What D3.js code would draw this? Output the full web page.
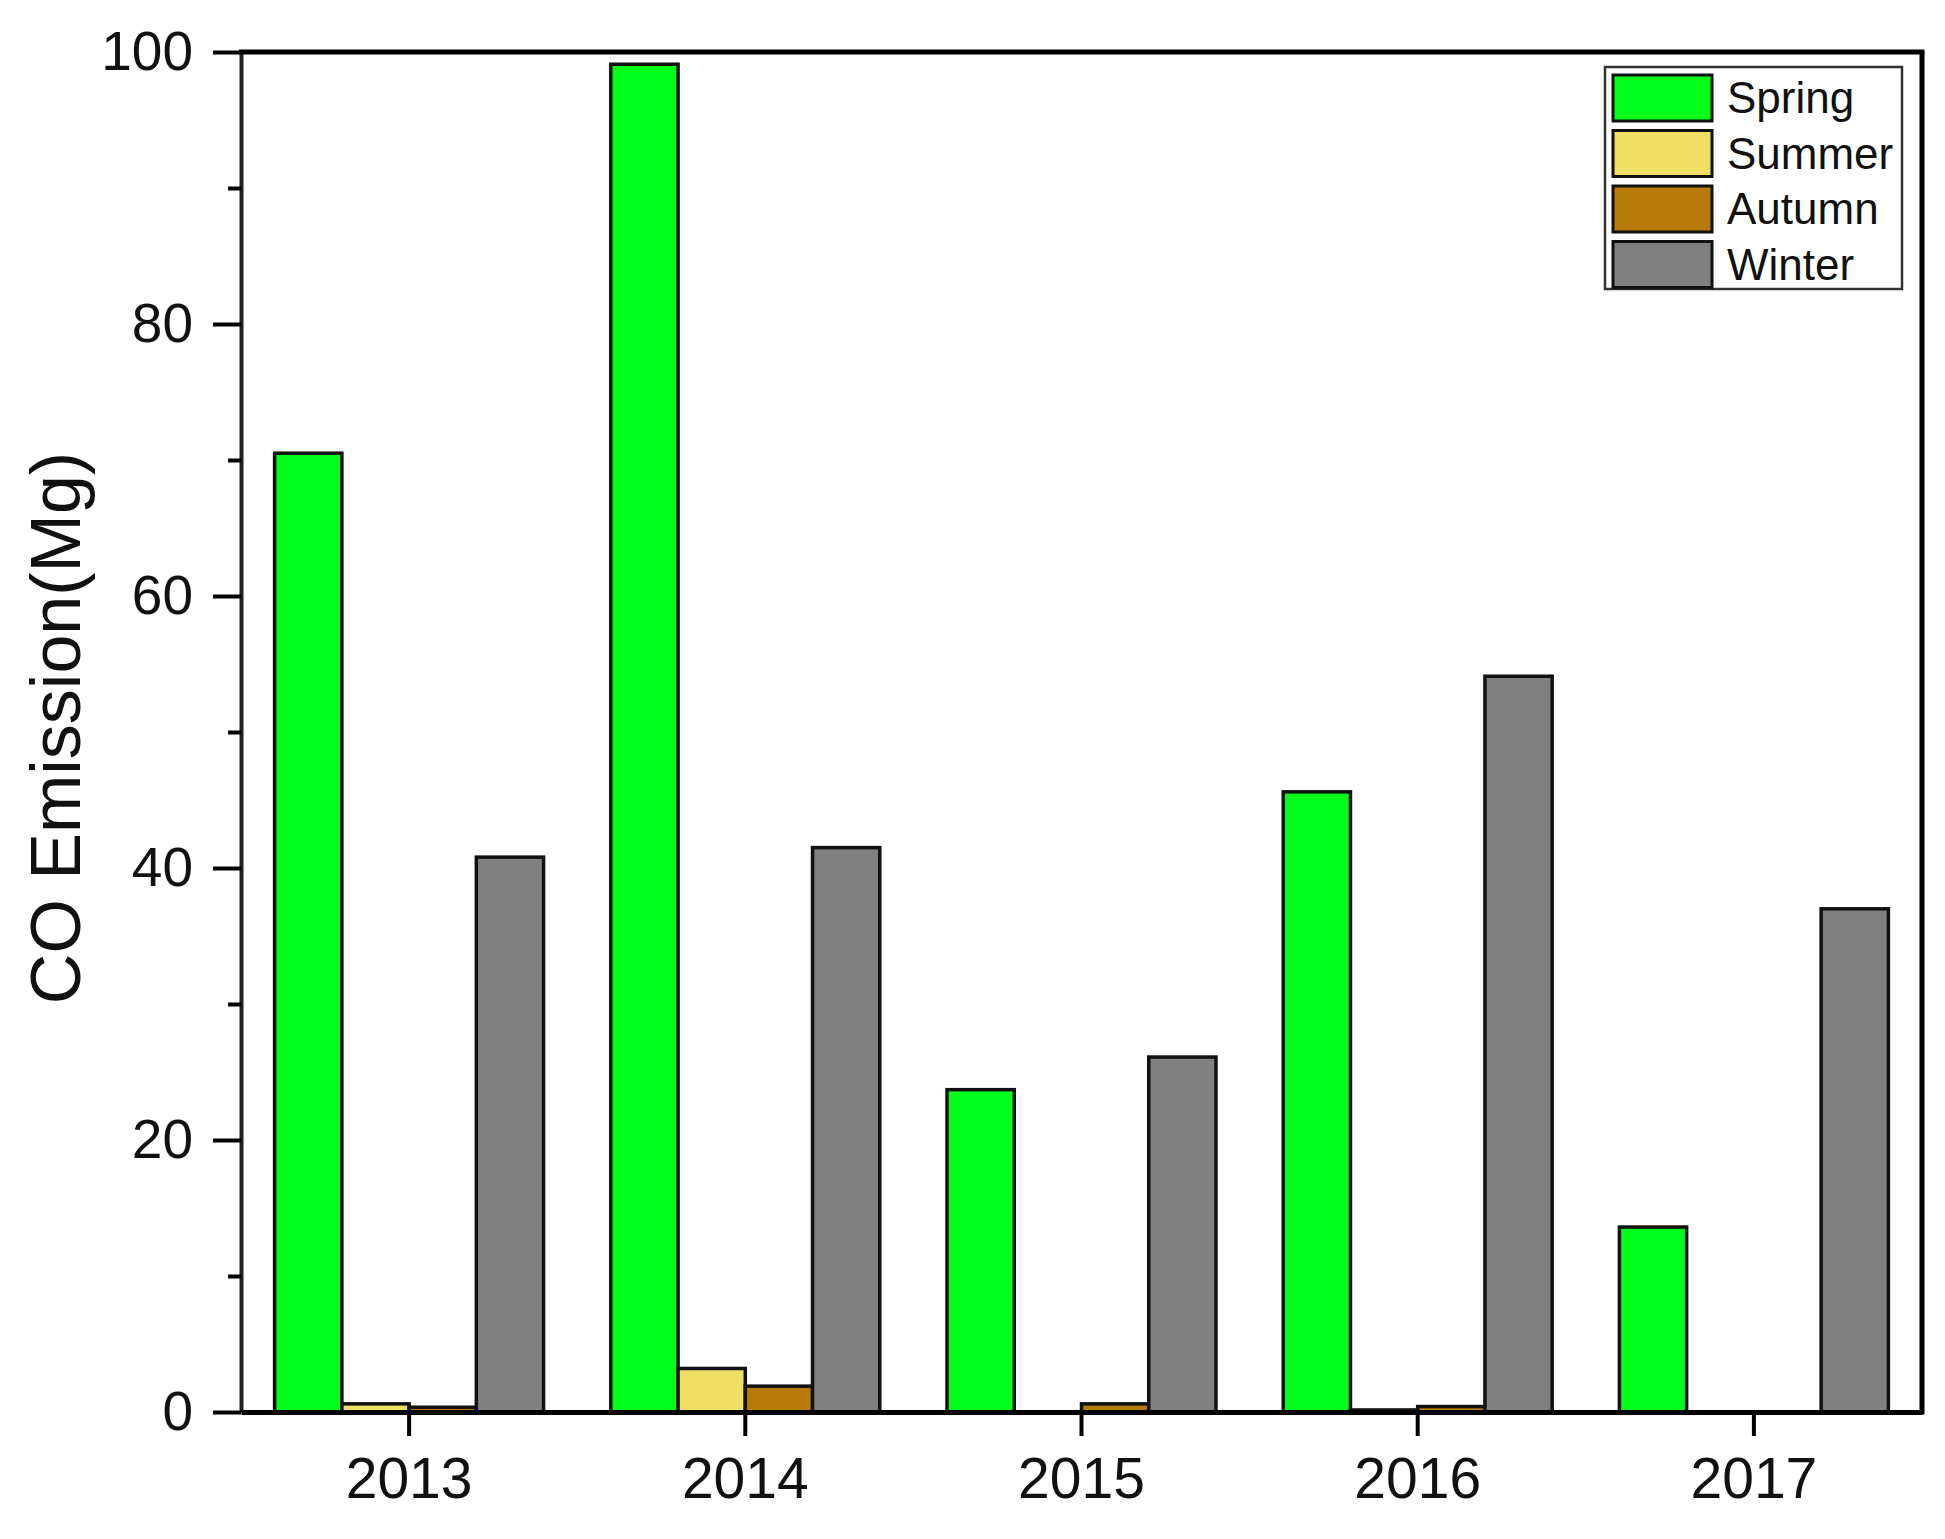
<!DOCTYPE html>
<html>
<head>
<meta charset="utf-8">
<script src="https://cdn.jsdelivr.net/npm/d3@7"></script>
<style>
  html, body { margin: 0; padding: 0; background: #fff; }
  svg { display: block; }
  text { font-family: "Liberation Sans", Arial, Helvetica, sans-serif; fill: #111; }
</style>
</head>
<body>
<svg id="chart" width="1945" height="1539"></svg>
<script>
// ---- data ----
const years = ["2013", "2014", "2015", "2016", "2017"];
const seasons = ["Spring", "Summer", "Autumn", "Winter"];
const spring = [70.5, 99.1, 23.7, 45.6, 13.6];
const summer = [0.6, 3.2, 0.0, 0.15, 0.0];
const autumn = [0.35, 1.9, 0.6, 0.4, 0.0];
const winter = [40.8, 41.5, 26.1, 54.1, 37.0];
const seasonColors = ["#00ff19", "#eedf62", "#b87a08", "#808080"];
const yMajorTicks = [0, 20, 40, 60, 80, 100];
const yMinorTicks = [10, 30, 50, 70, 90];
const yTitle = "CO Emission(Mg)";

const seriesValues = [spring, summer, autumn, winter];
const rows = years.map((yr, i) => ({
  year: yr,
  values: seasons.map((s, j) => ({ season: s, value: seriesValues[j][i] }))
}));

// ---- layout ----
const svg = d3.select("#chart");
svg.append("rect").attr("width", 1945).attr("height", 1539).attr("fill", "#fff");

const L = 241, R = 1922, T = 52, B = 1412;

const x = d3.scaleBand().domain(years).range([L, R]).paddingInner(0.2).paddingOuter(0.1);
const x1 = d3.scaleBand().domain(seasons).range([0, x.bandwidth()]).padding(0);
const y = d3.scaleLinear().domain([0, 100]).range([B, T]);
const color = d3.scaleOrdinal().domain(seasons).range(seasonColors);

// ---- bars ----
const g = svg.append("g");
g.selectAll("g.year")
  .data(rows)
  .join("g")
  .attr("class", "year")
  .attr("transform", d => `translate(${x(d.year)},0)`)
  .selectAll("rect")
  .data(d => d.values)
  .join("rect")
  .attr("x", d => x1(d.season))
  .attr("width", x1.bandwidth())
  .attr("y", d => y(d.value))
  .attr("height", d => y(0) - y(d.value))
  .attr("fill", d => color(d.season))
  .attr("stroke", "#111")
  .attr("stroke-width", 3.5);

// ---- axes ----
const yAxis = d3.axisLeft(y).tickValues(yMajorTicks).tickSize(28).tickSizeOuter(0).tickPadding(20);
const ya = svg.append("g").attr("transform", `translate(${L},0)`).call(yAxis);
ya.select(".domain").attr("stroke", "#222").attr("stroke-width", 4);
ya.selectAll(".tick line").attr("stroke", "#000").attr("stroke-width", 4);
ya.selectAll(".tick text").attr("font-size", 55).style("font-family", "'Liberation Sans', Arial, sans-serif").attr("fill", "#111");

const yMinor = d3.axisLeft(y).tickValues(yMinorTicks).tickSize(13).tickFormat("").tickSizeOuter(0);
const ym = svg.append("g").attr("transform", `translate(${L},0)`).call(yMinor);
ym.select(".domain").remove();
ym.selectAll(".tick line").attr("stroke", "#000").attr("stroke-width", 4);

const xAxis = d3.axisBottom(x).tickSize(24).tickSizeOuter(0).tickPadding(22);
const xa = svg.append("g").attr("transform", `translate(0,${B})`).call(xAxis);
xa.select(".domain").attr("stroke", "#000").attr("stroke-width", 5);
xa.selectAll(".tick line").attr("stroke", "#000").attr("stroke-width", 4);
xa.selectAll(".tick text").attr("font-size", 57).style("font-family", "'Liberation Sans', Arial, sans-serif").attr("fill", "#111");

// frame: top and right
svg.append("line").attr("x1", L - 2).attr("x2", R + 2.5).attr("y1", T).attr("y2", T)
  .attr("stroke", "#000").attr("stroke-width", 5);
svg.append("line").attr("x1", R).attr("x2", R).attr("y1", T).attr("y2", B + 2.5)
  .attr("stroke", "#000").attr("stroke-width", 5);

// y title
svg.append("text")
  .attr("transform", `translate(80,728) rotate(-90)`)
  .attr("text-anchor", "middle")
  .attr("font-size", 70)
  .text(yTitle);

// ---- legend ----
const lg = svg.append("g");
lg.append("rect").attr("x", 1605).attr("y", 67).attr("width", 297).attr("height", 222)
  .attr("fill", "#fff").attr("stroke", "#333").attr("stroke-width", 2.5);
const item = lg.selectAll("g.item").data(seasons).join("g")
  .attr("class", "item")
  .attr("transform", (d, i) => `translate(1613,${75 + i * 55.5})`);
item.append("rect").attr("width", 99).attr("height", 46)
  .attr("fill", d => color(d)).attr("stroke", "#111").attr("stroke-width", 3);
item.append("text").attr("x", 114).attr("y", 23 + 15).attr("font-size", 44).text(d => d);
</script>
</body>
</html>
